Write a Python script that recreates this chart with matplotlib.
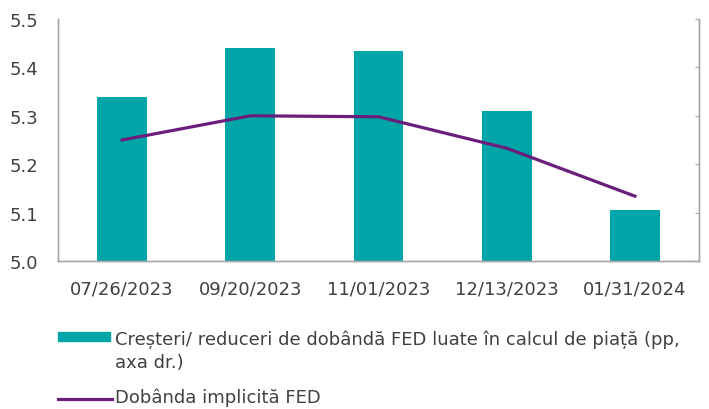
import matplotlib.pyplot as plt
from matplotlib.patches import Rectangle
from matplotlib.lines import Line2D

plt.rcParams['font.family'] = ['DejaVu Sans']

# date sedinte FED
date = ['07/26/2023', '09/20/2023', '11/01/2023', '12/13/2023', '01/31/2024']
# cresteri/reduceri de dobanda (axa dreapta, fara etichete)
cresteri = [0.339, 0.440, 0.434, 0.310, 0.105]
# dobanda implicita FED
dobanda = [5.250, 5.300, 5.298, 5.233, 5.134]

teal = '#00A5A8'
mov = '#6B1D7C'
gri = '#A6A6A6'
text_col = '#404040'

fig = plt.figure(figsize=(7.09, 4.10), dpi=100)
ax = fig.add_axes([58 / 709, 1 - 262 / 410, 641 / 709, 242 / 410])
ax2 = ax.twinx()

x = list(range(len(date)))
ax2.bar(x, cresteri, width=0.39, color=teal, zorder=1)
ax.plot(x, dobanda, color=mov, linewidth=2.3, zorder=3)

# linia peste bare
ax.set_zorder(ax2.get_zorder() + 1)
ax.patch.set_visible(False)

ax.set_xlim(-0.5, 4.5)
ax.set_ylim(5.0, 5.5)
ax.set_yticks([5.0, 5.1, 5.2, 5.3, 5.4, 5.5])
ax.set_yticklabels(['5.0', '5.1', '5.2', '5.3', '5.4', '5.5'])
ax2.set_ylim(0, 0.5)
ax2.set_yticks([0, 0.1, 0.2, 0.3, 0.4, 0.5])
ax2.set_yticklabels([])
ax.set_xticks(x)
ax.set_xticklabels(date)

for a in (ax, ax2):
    a.spines['top'].set_visible(False)
    for s in ('left', 'right', 'bottom'):
        a.spines[s].set_color(gri)
        a.spines[s].set_linewidth(1)
ax.tick_params(axis='y', length=0, pad=14, labelsize=13, labelcolor=text_col)
ax.tick_params(axis='x', length=0, pad=13, labelsize=13, labelcolor=text_col)
ax2.tick_params(axis='y', direction='in', length=3, color=gri)

# legenda
fig.patches.append(Rectangle((58 / 709, 1 - 342 / 410), 52 / 709, 9 / 410,
                             transform=fig.transFigure, color=teal))
fig.text(115 / 709, 1 - 351 / 410,
         'Creșteri/ reduceri de dobândă FED luate în calcul de piață (pp,\naxa dr.)',
         fontsize=13, color=text_col, va='center', ha='left', linespacing=1.35)
fig.lines.append(Line2D([58 / 709, 112 / 709], [1 - 400 / 410, 1 - 400 / 410],
                        transform=fig.transFigure, color=mov, linewidth=2.3))
fig.text(115 / 709, 1 - 398 / 410, 'Dobânda implicită FED',
         fontsize=13, color=text_col, va='center', ha='left')

plt.savefig('out.png', dpi=100)
